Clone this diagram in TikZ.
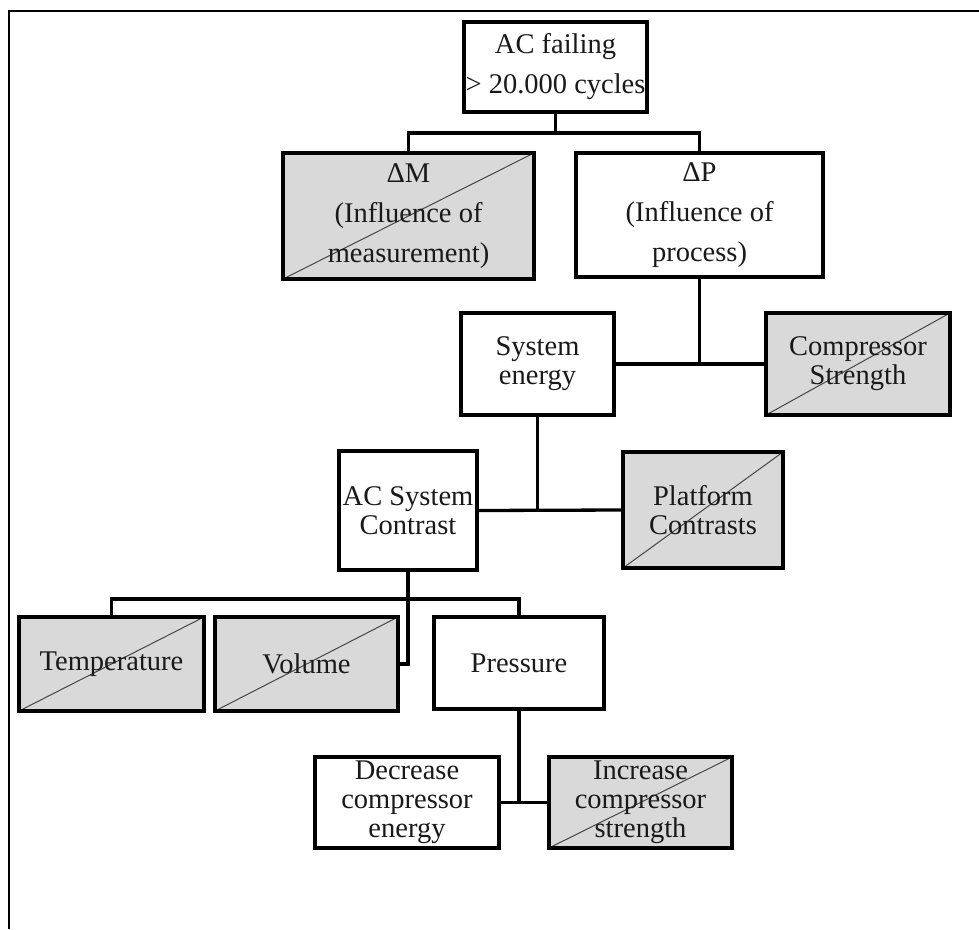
\documentclass[tikz,border=0pt]{standalone}
\usepackage{fontspec}
\setmainfont{Liberation Serif}
\definecolor{shade}{RGB}{217,217,217}
\definecolor{diag}{RGB}{70,70,70}
\definecolor{textc}{RGB}{25,25,25}
\begin{document}
\begin{tikzpicture}[x=1pt,y=-1pt,
  box/.style={draw=black, line width=3.3pt, fill=white, inner sep=0pt, align=center,
    text=textc, font=\fontsize{28.5}{40}\selectfont},
  tight/.style={font=\fontsize{28.5}{29}\selectfont},
  shaded/.style={fill=shade, path picture={\draw[line width=1pt, draw=diag]
    (path picture bounding box.south west) -- (path picture bounding box.north east);}},
  conn/.style={line width=3.3pt, draw=black}]
\useasboundingbox (0,0) rectangle (979,929);
% frame
\draw[line width=1.5pt] (9,929) -- (9,11) -- (979,11);

% nodes
\node[box, minimum width=183pt, minimum height=90pt] (ac) at (555.5,67) {AC failing\\> 20.000 cycles};
\node[box, shaded, minimum width=251pt, minimum height=126pt] (dm) at (408.5,216) {ΔM\\(Influence of\\measurement)};
\node[box, minimum width=247pt, minimum height=124pt] (dp) at (699.5,215) {ΔP\\(Influence of\\process)};
\node[box, tight, minimum width=153pt, minimum height=102pt] (se) at (537.5,364) {System\\energy};
\node[box, tight, shaded, minimum width=184pt, minimum height=102pt] (cs) at (858,364) {Compressor\\Strength};
\node[box, tight, minimum width=138pt, minimum height=119pt] (acs) at (408,510.5) {AC System\\Contrast};
\node[box, tight, shaded, minimum width=160pt, minimum height=116pt] (pc) at (703,510) {Platform\\Contrasts};
\node[box, shaded, minimum width=185pt, minimum height=94pt] (temp) at (111.5,664) {Temperature};
\node[box, shaded, minimum width=183pt, minimum height=94pt] (vol) at (306.5,664) {Volume};
\node[box, minimum width=170pt, minimum height=92pt] (pres) at (519,663) {Pressure};
\node[box, tight, minimum width=184pt, minimum height=91pt] (dec) at (407,802.5) {Decrease\\compressor\\energy};
\node[box, tight, shaded, minimum width=183pt, minimum height=91pt] (inc) at (640.5,802.5) {Increase\\compressor\\strength};

% connectors
\coordinate (j1) at (555.5,133);
\draw[conn] (ac.south) -- (j1);
\draw[conn] (dm.north) |- (j1) -| (dp.north);
\draw[conn] (dp.south) -- (dp.south |- se.east);
\draw[conn] (se.east) -- (cs.west);
\draw[conn] (se.south) -- (se.south |- acs.east);
\draw[conn] (acs.east) -- (pc.west);
\draw[conn] (acs.south) |- (vol.east);
\coordinate (j2) at (408,599);
\draw[conn] (temp.north) |- (j2) -| (pres.north);
\draw[conn] (pres.south) -- (pres.south |- dec.east);
\draw[conn] (dec.east) -- (inc.west);
\end{tikzpicture}
\end{document}
